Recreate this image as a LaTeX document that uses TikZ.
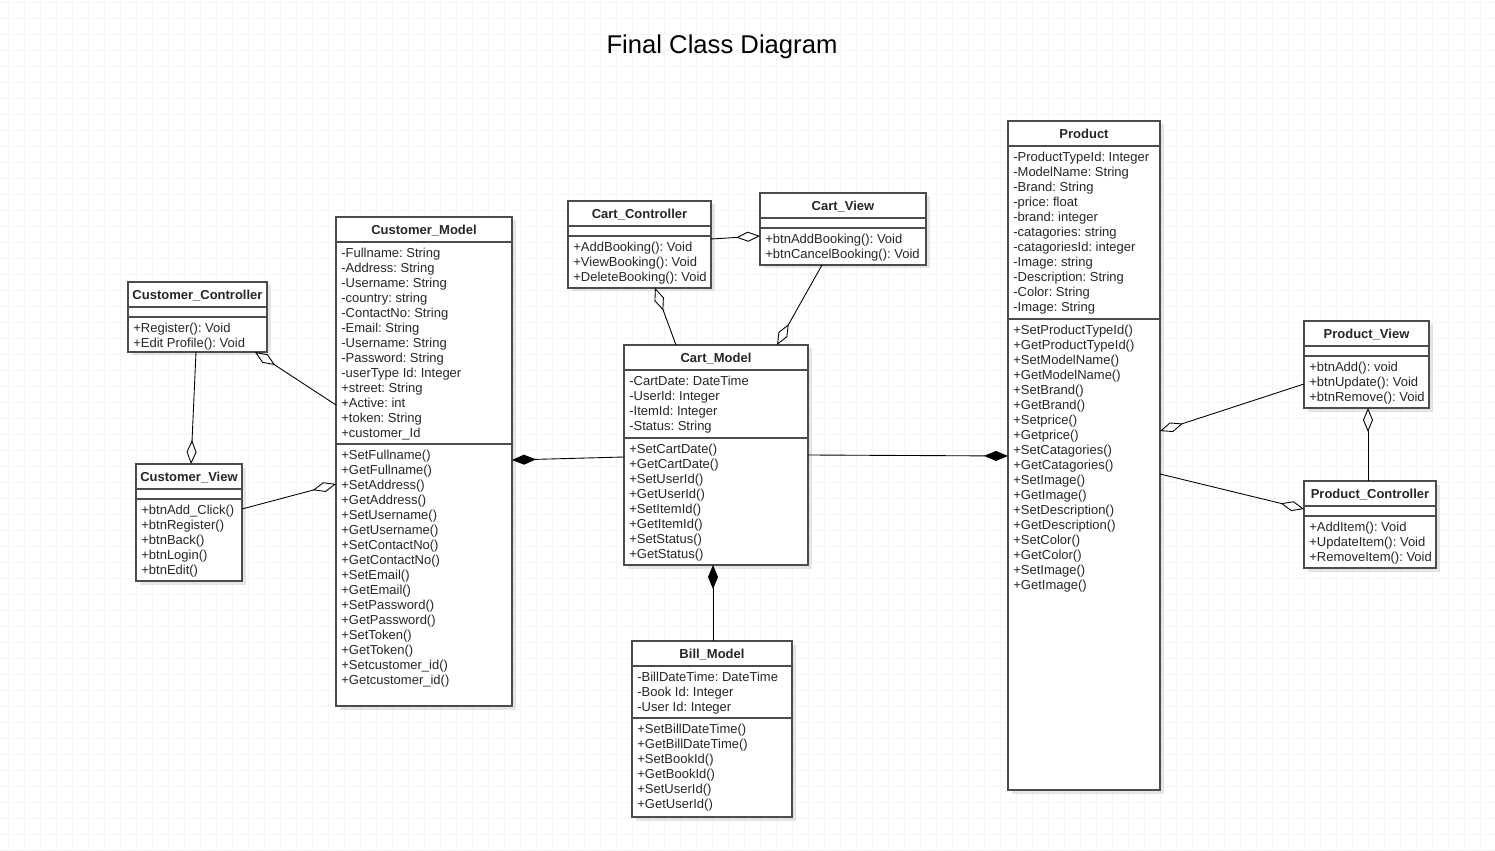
\documentclass[tikz,border=0pt]{standalone}
\usepackage{fontspec}
\setmainfont{Liberation Sans}
\frenchspacing
\usetikzlibrary{arrows.meta,shadows}

\newcommand{\umlclass}[9]{%
  \node[classbox, minimum width={#4*0.02cm}, minimum height={#5*0.02cm}] (#1) at (#2,#3) {};
  \node[classname] (#1-name) at ([shift={(#4/2,17.5)}]#1.north west) {#6};
  \draw[divider] ([shift={(0,25)}]#1.north west) -- ([shift={(0,25)}]#1.north east);
  \draw[divider] ([shift={(0,25+#7)}]#1.north west) -- ([shift={(0,25+#7)}]#1.north east);
  \foreach \t [count=\i] in {#8}
    \node[member] (#1-a\i) at ([shift={(5,25.5+15*\i)}]#1.north west) {\t};
  \foreach \t [count=\i] in {#9}
    \node[member] (#1-o\i) at ([shift={(5,25.5+#7+15*\i)}]#1.north west) {\t};
}

\begin{document}
\begin{tikzpicture}[x=0.02cm, y=-0.02cm,
  classbox/.style={draw=black!70, line width=0.7pt, fill=white, anchor=north west, inner sep=0pt, outer sep=0pt,
    drop shadow={shadow xshift=0.07cm, shadow yshift=-0.07cm, fill=black!20, opacity=0.5}},
  divider/.style={draw=black!70, line width=0.7pt},
  classname/.style={anchor=base, inner sep=0pt, font=\fontsize{7.4}{8.5}\selectfont\bfseries, text=black!85},
  member/.style={anchor=base west, inner sep=0pt, font=\fontsize{7.4}{8.5}\selectfont, text=black!85},
  gridline/.style={draw=black!4, line width=0.4pt},
  aggr/.style={draw=black, line width=0.5pt, -{Diamond[open, length=0.48cm, width=0.2cm]}},
  comp/.style={draw=black, line width=0.5pt, -{Diamond[length=0.48cm, width=0.2cm]}}]

  \fill[white] (0,0) rectangle (1495,851);
  \useasboundingbox (0,0) rectangle (1495,851);
  \foreach \gx in {8,24,...,1495} \draw[gridline] (\gx,0) -- (\gx,851);
  \foreach \gy in {2,18,...,851} \draw[gridline] (0,\gy) -- (1495,\gy);

  \node[anchor=base, inner sep=0pt, font=\fontsize{14.6}{17}\selectfont] (title) at (722,54) {Final Class Diagram};

  \umlclass{custctrl}{128}{282}{139}{70}{Customer\_Controller}{10}{}
    {+Register(): Void, +Edit Profile(): Void}
  \umlclass{custview}{136}{464}{106}{117}{Customer\_View}{10}{}
    {+btnAdd\_Click(), +btnRegister(), +btnBack(), +btnLogin(), +btnEdit()}
  \umlclass{custmodel}{336}{217}{176}{489}{Customer\_Model}{202}
    {-Fullname: String, -Address: String, -Username: String, -country: string, -ContactNo: String,
     -Email: String, -Username: String, -Password: String, -userType Id: Integer, +street: String,
     +Active: int, +token: String, +customer\_Id}
    {+SetFullname(), +GetFullname(), +SetAddress(), +GetAddress(), +SetUsername(), +GetUsername(),
     +SetContactNo(), +GetContactNo(), +SetEmail(), +GetEmail(), +SetPassword(), +GetPassword(),
     +SetToken(), +GetToken(), +Setcustomer\_id(), +Getcustomer\_id()}
  \umlclass{cartctrl}{568}{201}{143}{87}{Cart\_Controller}{10}{}
    {+AddBooking(): Void, +ViewBooking(): Void, +DeleteBooking(): Void}
  \umlclass{cartview}{760}{193}{166}{72}{Cart\_View}{10}{}
    {+btnAddBooking(): Void, +btnCancelBooking(): Void}
  \umlclass{cartmodel}{624}{345}{184}{220}{Cart\_Model}{68}
    {-CartDate: DateTime, -UserId: Integer, -ItemId: Integer, -Status: String}
    {+SetCartDate(), +GetCartDate(), +SetUserId(), +GetUserId(), +SetItemId(), +GetItemId(),
     +SetStatus(), +GetStatus()}
  \umlclass{billmodel}{632}{641}{160}{176}{Bill\_Model}{52}
    {-BillDateTime: DateTime, -Book Id: Integer, -User Id: Integer}
    {+SetBillDateTime(), +GetBillDateTime(), +SetBookId(), +GetBookId(), +SetUserId(), +GetUserId()}
  \umlclass{product}{1008}{121}{152}{669}{Product}{173}
    {-ProductTypeId: Integer, -ModelName: String, -Brand: String, -price: float, -brand: integer,
     -catagories: string, -catagoriesId: integer, -Image: string, -Description: String,
     -Color: String, -Image: String}
    {+SetProductTypeId(), +GetProductTypeId(), +SetModelName(), +GetModelName(), +SetBrand(),
     +GetBrand(), +Setprice(), +Getprice(), +SetCatagories(), +GetCatagories(), +SetImage(),
     +GetImage(), +SetDescription(), +GetDescription(), +SetColor(), +GetColor(), +SetImage(),
     +GetImage()}
  \umlclass{prodview}{1304}{321}{125}{87}{Product\_View}{10}{}
    {+btnAdd(): void, +btnUpdate(): Void, +btnRemove(): Void}
  \umlclass{prodctrl}{1304}{481}{132}{87}{Product\_Controller}{10}{}
    {+AddItem(): Void, +UpdateItem(): Void, +RemoveItem(): Void}

  \draw[aggr] ([shift={(68,0)}]custctrl.south west) -- ([shift={(55,0)}]custview.north west);
  \draw[aggr] ([shift={(0,188)}]custmodel.north west) -- ([shift={(127,0)}]custctrl.south west);
  \draw[aggr] ([shift={(0,45)}]custview.north east) -- ([shift={(0,267)}]custmodel.north west);
  \draw[comp] ([shift={(0,112)}]cartmodel.north west) -- ([shift={(0,243)}]custmodel.north east);
  \draw[aggr] ([shift={(0,38)}]cartctrl.north east) -- ([shift={(0,43)}]cartview.north west);
  \draw[aggr] ([shift={(52,0)}]cartmodel.north west) -- ([shift={(87,0)}]cartctrl.south west);
  \draw[aggr] ([shift={(62,0)}]cartview.south west) -- ([shift={(153,0)}]cartmodel.north west);
  \draw[comp] ([shift={(0,110)}]cartmodel.north east) -- ([shift={(0,335)}]product.north west);
  \draw[comp] ([shift={(81,0)}]billmodel.north west) -- ([shift={(89,0)}]cartmodel.south west);
  \draw[aggr] ([shift={(0,63)}]prodview.north west) -- ([shift={(0,310)}]product.north east);
  \draw[aggr] ([shift={(0,353)}]product.north east) -- ([shift={(0,28)}]prodctrl.north west);
  \draw[aggr] ([shift={(64,0)}]prodctrl.north west) -- ([shift={(64,0)}]prodview.south west);
\end{tikzpicture}
\end{document}
